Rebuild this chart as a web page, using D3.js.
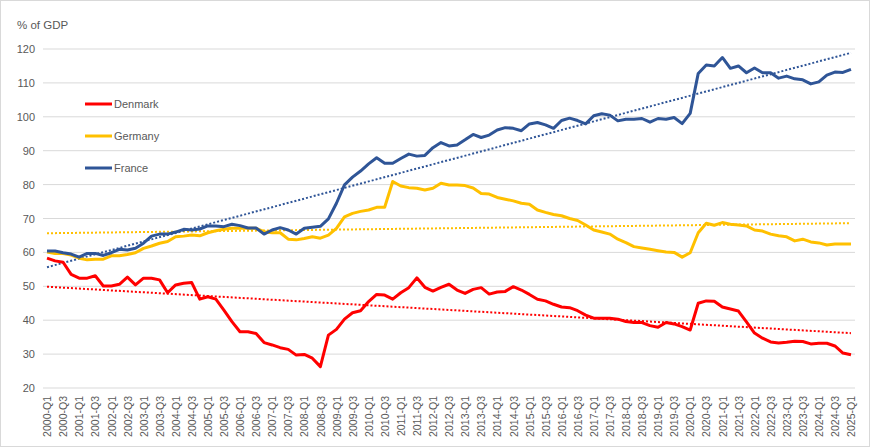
<!DOCTYPE html>
<html>
<head>
<meta charset="utf-8">
<script src="https://cdn.jsdelivr.net/npm/d3@7"></script>
<style>
  body { margin: 0; background: #fff; }
  svg { display: block; font-family: "Liberation Sans", Arial, sans-serif; }
</style>
</head>
<body>
<svg id="chart" width="870" height="447"></svg>
<script>
// quarters 2000-Q1 .. 2025-Q1
const quarters = [];
for (let y = 2000; y <= 2025; y++) {
  for (let q = 1; q <= 4; q++) {
    if (y === 2025 && q > 1) break;
    quarters.push(y + "-Q" + q);
  }
}

const denmark = [
  58.3, 57.5, 57.1, 53.5, 52.4, 52.4, 53.1, 50.1, 50.1, 50.6,
  52.7, 50.4, 52.4, 52.4, 51.9, 48.1, 50.4, 50.9, 51.1, 46.2,
  46.9, 46.2, 43.0, 39.6, 36.6, 36.6, 36.1, 33.4, 32.7, 31.9,
  31.4, 29.7, 29.9, 28.8, 26.3, 35.6, 37.3, 40.3, 42.2, 42.8,
  45.5, 47.6, 47.4, 46.2, 48.1, 49.6, 52.5, 49.7, 48.6, 49.7,
  50.6, 48.9, 47.9, 49.1, 49.6, 47.7, 48.3, 48.5, 49.9, 48.9,
  47.6, 46.2, 45.7, 44.7, 43.9, 43.7, 42.8, 41.5, 40.6, 40.6,
  40.6, 40.3, 39.6, 39.3, 39.3, 38.4, 37.9, 39.3, 38.9, 38.1,
  37.1, 45.0, 45.7, 45.6, 43.9, 43.3, 42.7, 39.5, 36.2, 34.7,
  33.6, 33.3, 33.5, 33.8, 33.7, 33.0, 33.2, 33.2, 32.4, 30.3,
  29.8
];

const germany = [
  60.1, 59.7, 59.7, 59.2, 58.3, 57.8, 58.0, 58.0, 59.0, 59.0,
  59.4, 59.9, 61.2, 61.9, 62.7, 63.2, 64.6, 64.8, 65.1, 64.9,
  65.8, 66.4, 66.8, 67.1, 67.1, 67.1, 67.1, 66.1, 65.8, 65.8,
  63.9, 63.7, 64.1, 64.6, 64.2, 65.1, 67.1, 70.5, 71.5, 72.1,
  72.5, 73.3, 73.3, 80.9, 79.6, 79.1, 78.9, 78.4, 78.9, 80.4,
  79.9, 79.9, 79.7, 79.0, 77.4, 77.2, 76.2, 75.7, 75.2, 74.5,
  74.2, 72.5, 71.8, 71.2, 70.8, 70.0, 69.4, 68.1, 66.6, 66.0,
  65.4, 63.9, 62.9, 61.7, 61.3, 60.9, 60.5, 60.1, 60.0, 58.6,
  59.9, 65.8, 68.6, 68.0, 68.8, 68.3, 68.1, 67.8, 66.6, 66.3,
  65.4, 64.9, 64.6, 63.4, 63.9, 63.1, 62.8, 62.2, 62.5, 62.5,
  62.5
];

const france = [
  60.4, 60.4, 59.9, 59.5, 58.6, 59.7, 59.7, 59.1, 59.9, 60.9,
  60.7, 61.2, 62.7, 64.8, 65.4, 65.4, 66.0, 66.8, 66.6, 66.9,
  67.8, 67.8, 67.6, 68.3, 67.9, 67.2, 67.2, 65.4, 66.6, 67.3,
  66.6, 65.4, 67.1, 67.4, 67.7, 69.9, 74.5, 79.9, 82.2, 84.0,
  86.1, 87.9, 86.3, 86.3, 87.7, 89.0, 88.4, 88.6, 90.9, 92.4,
  91.4, 91.7, 93.2, 94.8, 93.9, 94.6, 96.1, 96.8, 96.6, 95.9,
  97.9, 98.3, 97.6, 96.6, 98.9, 99.6, 98.9, 97.9, 100.3, 100.9,
  100.5, 98.8, 99.3, 99.3, 99.5, 98.4, 99.5, 99.3, 99.8, 98.0,
  101.0, 112.8, 115.3, 115.0, 117.5, 114.3, 115.0, 113.0, 114.4, 113.0,
  113.0, 111.4, 112.0, 111.2, 110.9, 109.7, 110.3, 112.3, 113.2, 113.1,
  114.0
];

const seriesNames = ["Denmark", "Germany", "France"];
const seriesColors = ["#FF0000", "#FFC000", "#2F5597"];
const yTicks = [20, 30, 40, 50, 60, 70, 80, 90, 100, 110, 120];

const series = [denmark, germany, france];

const width = 870, height = 447;
const plotLeft = 43, plotRight = 855, plotTop = 49, plotBottom = 388;
const textColor = "#595959";
const gridColor = "#D9D9D9";

const svg = d3.select("#chart");

// chart border
svg.append("rect")
  .attr("x", 0.5).attr("y", 0.5)
  .attr("width", width - 1).attr("height", height - 1)
  .attr("fill", "#fff").attr("stroke", gridColor);

const x = d3.scalePoint().domain(quarters).range([plotLeft, plotRight]).padding(0.5);
const y = d3.scaleLinear().domain([20, 120]).range([plotBottom, plotTop]);

// gridlines
svg.append("g")
  .selectAll("line")
  .data(yTicks)
  .enter()
  .append("line")
  .attr("x1", plotLeft).attr("x2", plotRight)
  .attr("y1", (d) => y(d)).attr("y2", (d) => y(d))
  .attr("stroke", gridColor)
  .attr("stroke-width", 1);

// y axis labels
const yAxis = svg.append("g")
  .attr("transform", "translate(" + (plotLeft - 8) + ",0)")
  .call(d3.axisLeft(y).tickValues(yTicks).tickSize(0).tickPadding(0));
yAxis.select(".domain").remove();
yAxis.selectAll("text")
  .attr("fill", textColor)
  .style("font-size", "11px");

// x axis labels (every other quarter)
const xAxis = svg.append("g")
  .attr("transform", "translate(0," + plotBottom + ")")
  .call(d3.axisBottom(x)
    .tickValues(quarters.filter((d, i) => i % 2 === 0))
    .tickSize(0).tickPadding(0));
xAxis.select(".domain").remove();
xAxis.selectAll("text")
  .attr("fill", textColor)
  .style("font-size", "10.5px")
  .attr("text-anchor", "end")
  .attr("dy", "0.35em")
  .attr("transform", "translate(0,8) rotate(-90)")
  .attr("x", 0).attr("y", 0);

// axis title
svg.append("text")
  .attr("x", 17).attr("y", 29)
  .attr("fill", textColor)
  .style("font-size", "11.5px")
  .text("% of GDP");

// linear trend lines (least squares)
const trend = (vals) => {
  const n = vals.length;
  const mx = d3.mean(vals, (d, i) => i);
  const my = d3.mean(vals);
  let sxy = 0, sxx = 0;
  vals.forEach((v, i) => {
    sxy += (i - mx) * (v - my);
    sxx += (i - mx) * (i - mx);
  });
  const b = sxy / sxx;
  const a = my - b * mx;
  return [a, a + b * (n - 1)];
};

series.forEach((vals, k) => {
  const [y0, y1] = trend(vals);
  svg.append("line")
    .attr("x1", x(quarters[0])).attr("y1", y(y0))
    .attr("x2", x(quarters[quarters.length - 1])).attr("y2", y(y1))
    .attr("stroke", seriesColors[k])
    .attr("stroke-width", 2)
    .attr("stroke-dasharray", "2,2");
});

// data lines
const line = d3.line()
  .x((d, i) => x(quarters[i]))
  .y((d) => y(d));

series.forEach((vals, k) => {
  svg.append("path")
    .datum(vals)
    .attr("d", line)
    .attr("fill", "none")
    .attr("stroke", seriesColors[k])
    .attr("stroke-width", 3)
    .attr("stroke-linejoin", "round");
});

// legend
const legend = svg.append("g");
seriesNames.forEach((name, k) => {
  const ly = 104 + k * 32;
  legend.append("line")
    .attr("x1", 85).attr("x2", 112)
    .attr("y1", ly).attr("y2", ly)
    .attr("stroke", seriesColors[k])
    .attr("stroke-width", 3);
  legend.append("text")
    .attr("x", 114).attr("y", ly + 4)
    .attr("fill", textColor)
    .style("font-size", "11px")
    .text(name);
});
</script>
</body>
</html>
